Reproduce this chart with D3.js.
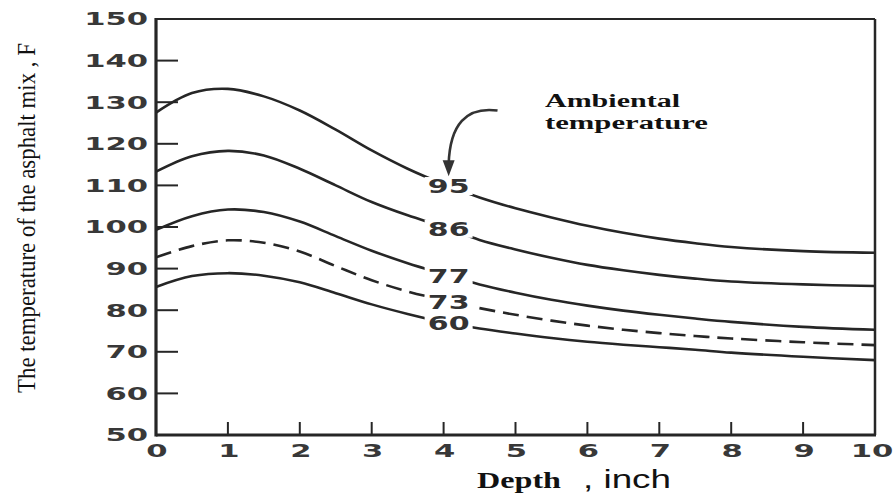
<!DOCTYPE html>
<html>
<head>
<meta charset="utf-8">
<script src="https://cdn.jsdelivr.net/npm/d3@7"></script>
<style>
  html, body { margin: 0; padding: 0; background: #fff; }
  svg { display: block; }
</style>
</head>
<body>
<div id="chart"></div>
<script>
(function () {
  'use strict';

  // depth, inch
  var depths = [0, 0.5, 1, 1.5, 2, 2.5, 3, 3.5, 4, 4.5, 5, 5.5, 6, 6.5, 7, 7.5, 8, 9, 10];

  // asphalt mix temperature (F) for each ambient temperature
  var t95 = [127.5, 132.2, 133.2, 131.4, 128.0, 123.4, 118.4, 114.0, 110.3, 107.1, 104.5, 102.3, 100.3, 98.6, 97.2, 96.1, 95.2, 94.2, 93.8];
  var t86 = [113.3, 117.0, 118.3, 117.2, 114.0, 110.0, 106.0, 102.8, 100.0, 96.9, 94.6, 92.6, 90.9, 89.6, 88.5, 87.6, 86.9, 86.2, 85.8];
  var t77 = [99.3, 102.6, 104.2, 103.6, 101.3, 97.8, 94.3, 91.3, 88.7, 86.2, 84.2, 82.5, 81.1, 79.9, 78.9, 78.0, 77.2, 76.0, 75.3];
  var t73 = [92.7, 95.4, 96.8, 96.2, 94.1, 90.6, 87.2, 84.5, 82.4, 80.5, 78.9, 77.5, 76.3, 75.3, 74.5, 73.8, 73.2, 72.3, 71.6];
  var t60 = [85.6, 88.2, 88.9, 88.3, 86.7, 84.1, 81.4, 79.1, 77.1, 75.6, 74.4, 73.3, 72.4, 71.7, 71.1, 70.5, 69.8, 68.8, 68.0];

  var ambients = ['95', '86', '77', '73', '60'];
  var seriesValues = [t95, t86, t77, t73, t60];
  var dashed = [false, false, false, true, false];

  var xTicks = [0, 1, 2, 3, 4, 5, 6, 7, 8, 9, 10];
  var yTicks = [50, 60, 70, 80, 90, 100, 110, 120, 130, 140, 150];

  var width = 895, height = 495;
  var left = 156, right = 875, top = 19, bottom = 435;
  var ink = '#262626';
  var labelDepth = 4.07;

  var svg = d3.select('#chart')
    .append('svg')
    .attr('width', width)
    .attr('height', height);

  var x = d3.scaleLinear().domain([0, 10]).range([left, right]);
  var y = d3.scaleLinear().domain([50, 150]).range([bottom, top]);

  // inner ticks
  svg.append('g').selectAll('line')
    .data(yTicks.slice(1, -1))
    .enter().append('line')
    .attr('x1', left).attr('x2', left + 22)
    .attr('y1', function(d) { return y(d); })
    .attr('y2', function(d) { return y(d); })
    .attr('stroke', ink).attr('stroke-width', 2);

  svg.append('g').selectAll('line')
    .data(xTicks.slice(1, -1))
    .enter().append('line')
    .attr('x1', function(d) { return x(d); })
    .attr('x2', function(d) { return x(d); })
    .attr('y1', bottom).attr('y2', bottom - 13)
    .attr('stroke', ink).attr('stroke-width', 2);

  // curves
  var line = d3.line()
    .x(function(d) { return x(d[0]); })
    .y(function(d) { return y(d[1]); })
    .curve(d3.curveCatmullRom.alpha(0.5));

  var curves = seriesValues.map(function(vals, i) {
    return { name: ambients[i], dashed: dashed[i], points: depths.map(function(d, j) { return [d, vals[j]]; }) };
  });

  svg.append('g').selectAll('path')
    .data(curves)
    .enter().append('path')
    .attr('d', function(c) { return line(c.points); })
    .attr('fill', 'none')
    .attr('stroke', ink)
    .attr('stroke-width', 2.6)
    .attr('stroke-dasharray', function(c) { return c.dashed ? '16,8' : null; });

  // curve labels break the lines
  function valueAt(vals, d) {
    var i = d3.bisectRight(depths, d) - 1;
    var t = (d - depths[i]) / (depths[i + 1] - depths[i]);
    return vals[i] + t * (vals[i + 1] - vals[i]);
  }

  var labels = svg.append('g').selectAll('g')
    .data(curves)
    .enter().append('g')
    .attr('transform', function(c, i) {
      return 'translate(' + x(labelDepth) + ',' + y(valueAt(seriesValues[i], labelDepth)) + ')';
    });

  labels.append('rect')
    .attr('x', -24).attr('y', -9).attr('width', 48).attr('height', 18)
    .attr('fill', '#fff');

  labels.append('text')
    .attr('transform', 'scale(1.5,1)')
    .attr('text-anchor', 'middle')
    .attr('dy', '0.36em')
    .attr('font-family', 'DejaVu Sans')
    .attr('font-weight', 'bold')
    .attr('font-size', 20)
    .attr('fill', '#333')
    .text(function(c) { return c.name; });

  // frame
  svg.append('line').attr('x1', left).attr('x2', right).attr('y1', top).attr('y2', top)
    .attr('stroke', ink).attr('stroke-width', 2);
  svg.append('line').attr('x1', right).attr('x2', right).attr('y1', top).attr('y2', bottom)
    .attr('stroke', ink).attr('stroke-width', 2.5);
  svg.append('line').attr('x1', left).attr('x2', left).attr('y1', top - 1).attr('y2', bottom + 1.5)
    .attr('stroke', ink).attr('stroke-width', 3.2);
  svg.append('line').attr('x1', left).attr('x2', right + 1).attr('y1', bottom).attr('y2', bottom)
    .attr('stroke', ink).attr('stroke-width', 3);

  // tick labels
  svg.append('g').selectAll('text')
    .data(yTicks)
    .enter().append('text')
    .attr('transform', function(d) { return 'translate(' + (left - 8) + ',' + y(d) + ') scale(1.7,1)'; })
    .attr('text-anchor', 'end')
    .attr('dy', '0.36em')
    .attr('font-family', 'DejaVu Sans')
    .attr('font-weight', 'bold')
    .attr('font-size', 18)
    .attr('fill', '#383838')
    .text(function(d) { return d; });

  svg.append('g').selectAll('text')
    .data(xTicks)
    .enter().append('text')
    .attr('transform', function(d) { return 'translate(' + (x(d) + (d === 10 ? -3 : 1)) + ',' + (bottom + 16) + ') scale(1.7,1)'; })
    .attr('text-anchor', 'middle')
    .attr('dy', '0.36em')
    .attr('font-family', 'DejaVu Sans')
    .attr('font-weight', 'bold')
    .attr('font-size', 18)
    .attr('fill', '#383838')
    .text(function(d) { return d; });

  // axis titles
  var yTitle = svg.append('text')
    .attr('text-anchor', 'middle')
    .attr('font-family', 'Liberation Serif')
    .attr('font-size', 26)
    .attr('fill', '#111')
    .text('The temperature of the asphalt mix , F');
  var squeeze = 350 / yTitle.node().getComputedTextLength();
  yTitle.attr('transform', 'translate(35,218) rotate(-90) scale(' + squeeze + ',1)');

  svg.append('text')
    .attr('x', 477).attr('y', 488)
    .attr('font-family', 'Liberation Serif')
    .attr('font-weight', 'bold')
    .attr('font-size', 23)
    .attr('textLength', 84)
    .attr('lengthAdjust', 'spacingAndGlyphs')
    .attr('fill', '#111')
    .text('Depth');

  svg.append('text')
    .attr('x', 583).attr('y', 488)
    .attr('font-family', 'Liberation Sans')
    .attr('font-size', 25)
    .attr('textLength', 88)
    .attr('lengthAdjust', 'spacingAndGlyphs')
    .attr('fill', '#111')
    .text(', inch');

  // ambient note and arrow
  var note = svg.append('g')
    .attr('font-family', 'Liberation Serif')
    .attr('font-weight', 'bold')
    .attr('font-size', 18)
    .attr('fill', '#111');
  note.append('text')
    .attr('x', x(5.41)).attr('y', y(128.8))
    .attr('textLength', 135).attr('lengthAdjust', 'spacingAndGlyphs')
    .text('Ambiental');
  note.append('text')
    .attr('x', x(5.41)).attr('y', y(123.5))
    .attr('textLength', 163).attr('lengthAdjust', 'spacingAndGlyphs')
    .text('temperature');

  var tipX = x(4.07), tipY = y(112.2);
  var arrow = d3.path();
  arrow.moveTo(x(4.75), y(128.0));
  arrow.quadraticCurveTo(tipX + 2, y(129.5), tipX, tipY - 12);
  svg.append('path')
    .attr('d', arrow.toString())
    .attr('fill', 'none')
    .attr('stroke', '#333')
    .attr('stroke-width', 2.6);
  svg.append('path')
    .attr('d', 'M' + (tipX - 6) + ',' + (tipY - 16) + 'L' + (tipX + 6) + ',' + (tipY - 16) + 'L' + tipX + ',' + tipY + 'Z')
    .attr('fill', '#333');
}());
</script>
</body>
</html>
